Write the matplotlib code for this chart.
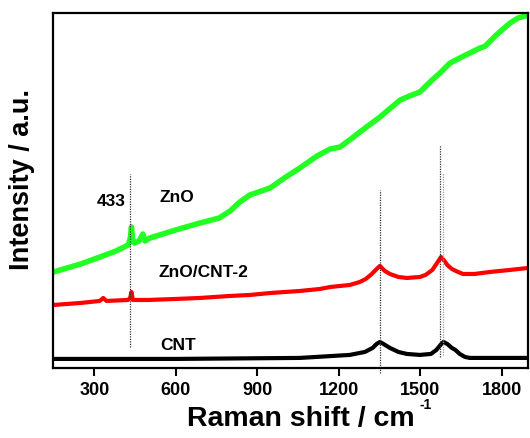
import matplotlib
matplotlib.use("Agg")
import matplotlib.pyplot as plt

# Raman spectra (intensity in arbitrary units)
zno_x = [150, 250, 321, 380, 425, 433, 437, 441, 448, 465, 479, 487, 505, 600, 689,
         760, 800, 836, 873, 947, 1000, 1057, 1120, 1168, 1205, 1240, 1278, 1352, 1426,
         1460, 1499, 1540, 1573, 1610, 1660, 1720, 1740, 1780, 1831, 1860, 1897]
zno_y = [96, 104, 111, 117, 123, 130, 141, 128, 125, 127, 134, 127, 130, 138, 145,
         150, 157, 166, 173, 180, 190, 200, 212, 219, 221, 228, 236, 251, 268,
         272, 276, 287, 295, 305, 312, 320, 322, 333, 345, 350, 353]

zc_x = [150, 250, 320, 333, 345, 424, 432, 437, 442, 500, 600, 689, 800, 873, 950,
        1057, 1131, 1170, 1241, 1278, 1300, 1322, 1340, 1352, 1370, 1389, 1420, 1451,
        1499, 1520, 1545, 1560, 1577, 1590, 1600, 1617, 1640, 1658, 1700, 1757, 1830, 1897]
zc_y = [63, 65, 67, 70, 67, 68, 70, 76, 68, 68, 69, 70, 72, 73, 75,
        77, 79, 81, 83, 86, 89, 94, 99, 102, 97, 94, 91, 90,
        91, 93, 98, 104, 111, 107, 103, 99, 96, 94, 94, 96, 98, 100]

cnt_x = [150, 600, 1057, 1241, 1297, 1325, 1340, 1352, 1365, 1389, 1420, 1451, 1499,
         1540, 1560, 1575, 1586, 1600, 1617, 1630, 1646, 1665, 1683, 1897]
cnt_y = [9, 9, 10, 13, 16, 20, 24, 26, 24, 20, 16, 14, 13,
         14, 18, 23, 26, 24, 20, 18, 14, 11, 10, 10]

# dotted marker lines: position, top, bottom
mark_x = [433, 1352, 1575, 1585]
mark_top = [194, 178, 223, 195]
mark_bot = [21, -5, 11, 13]
mark_col = ['#333333', '#333333', '#333333', '#999999']

fig = plt.figure(figsize=(5.30, 4.38), dpi=100)
ax = fig.add_axes([0.1, 0.16, 0.896, 0.81])

ax.plot(zno_x, zno_y, color='#22ff22', lw=4.0, solid_joinstyle='round')
ax.plot(zc_x, zc_y, color='#ff0000', lw=3.0, solid_joinstyle='round')
ax.plot(cnt_x, cnt_y, color='black', lw=3.0, solid_joinstyle='round')

for xv, top, bot, c in zip(mark_x, mark_top, mark_bot, mark_col):
    ax.plot([xv, xv], [bot, top], color=c, lw=0.9, ls=(0, (1, 1)), clip_on=False)

tfont = dict(family='Liberation Sans', fontweight='bold', fontsize=12.5, va='center')
ax.text(310, 167, '433', **tfont)
ax.text(542, 171, 'ZnO', **tfont)
ax.text(535, 95, 'ZnO/CNT-2', **tfont)
ax.text(542, 22, 'CNT', **tfont)

ax.set_xlim(148, 1897)
ax.set_ylim(0, 355)
ax.set_xticks([300, 600, 900, 1200, 1500, 1800])
ax.set_yticks([])
ax.tick_params(axis='x', direction='out', length=6, width=1.5, pad=4)
for lab in ax.get_xticklabels():
    lab.set_fontfamily('Liberation Sans')
    lab.set_fontweight('bold')
    lab.set_fontsize(13)
for sp in ax.spines.values():
    sp.set_linewidth(1.6)

# x label with a small plain "-1" superscript, as in the original
fig.text(187 / 530, 12 / 438, 'Raman shift / cm', family='Liberation Sans',
         fontweight='bold', fontsize=20.5, ha='left', va='baseline')
fig.text(420 / 530, 29 / 438, '-1', family='Liberation Sans',
         fontweight='bold', fontsize=10, ha='left', va='baseline')

ax.set_ylabel('Intensity / a.u.', family='Liberation Sans',
              fontweight='bold', fontsize=19.5)
ax.yaxis.set_label_coords(-0.038, 0.53)

fig.savefig('out.png', dpi=100)
